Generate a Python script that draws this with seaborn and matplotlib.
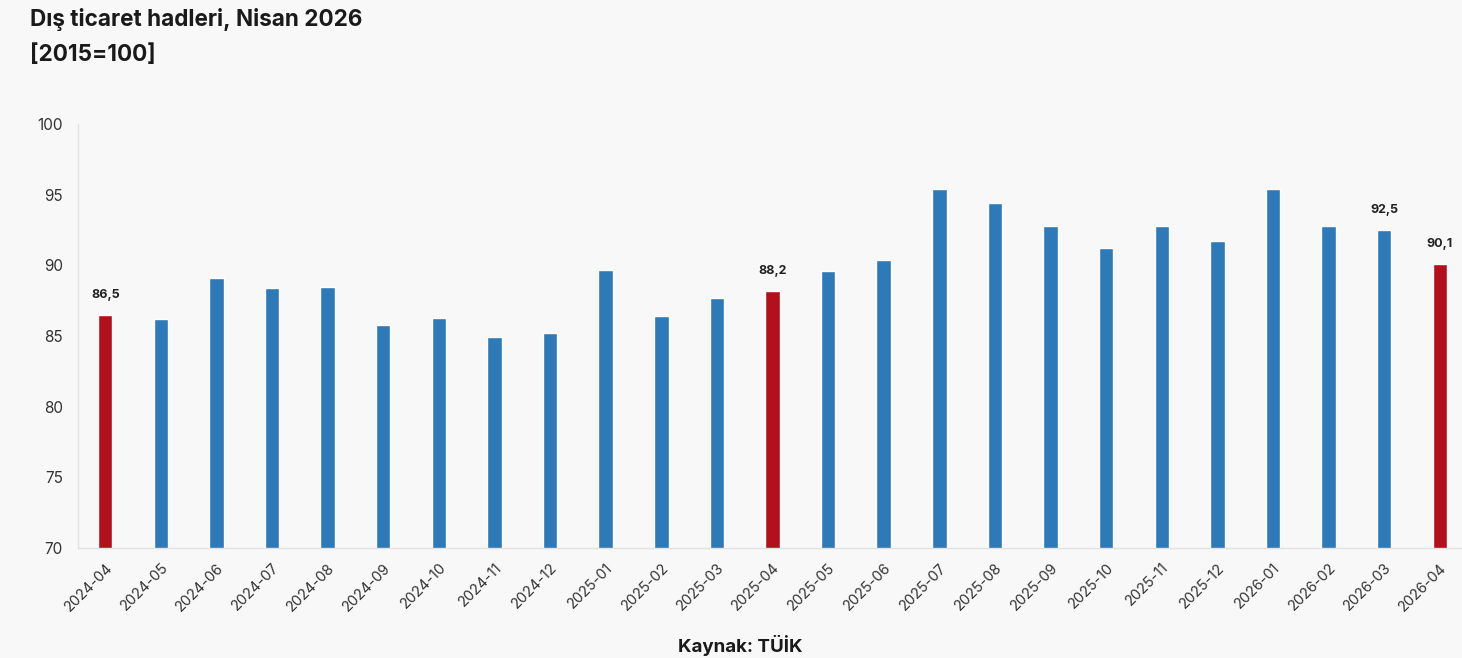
import matplotlib
matplotlib.use("Agg")
import matplotlib.pyplot as plt
import seaborn as sns
import pandas as pd

months = ["2024-04", "2024-05", "2024-06", "2024-07", "2024-08", "2024-09", "2024-10",
          "2024-11", "2024-12", "2025-01", "2025-02", "2025-03", "2025-04", "2025-05",
          "2025-06", "2025-07", "2025-08", "2025-09", "2025-10", "2025-11", "2025-12",
          "2026-01", "2026-02", "2026-03", "2026-04"]
values = [86.5, 86.2, 89.1, 88.4, 88.5, 85.8, 86.3, 84.9, 85.2, 89.7, 86.4, 87.7,
          88.2, 89.6, 90.4, 95.4, 94.4, 92.8, 91.2, 92.8, 91.7, 95.4, 92.8, 92.5, 90.1]
highlight = ["2024-04", "2025-04", "2026-04"]
labeled = ["2024-04", "2025-04", "2026-03", "2026-04"]
title = "Dış ticaret hadleri, Nisan 2026\n[2015=100]"
source = "Kaynak: TÜİK"

BLUE = "#2e79b8"
RED = "#b2111b"
BG = "#f8f8f8"

sns.set_theme(style="white")
plt.rcParams["font.family"] = ["Inter", "DejaVu Sans"]

df = pd.DataFrame({"month": months, "value": values})
palette = {m: (RED if m in highlight else BLUE) for m in months}

fig = plt.figure(figsize=(14.62, 6.58), dpi=100, facecolor=BG)
ax = fig.add_axes([78 / 1462, 1 - 548 / 658, (1462 - 78) / 1462, (548 - 124) / 658])
ax.set_facecolor(BG)

sns.barplot(data=df, x="month", y="value", hue="month", palette=palette,
            width=0.26, legend=False, ax=ax, saturation=1)

ax.set_ylim(70, 100)
ax.set_yticks(range(70, 101, 5))
ax.set_xlim(-0.49, 24.4)
ax.set_xlabel("")
ax.set_ylabel("")

for s in ["top", "right"]:
    ax.spines[s].set_visible(False)
for s in ["left", "bottom"]:
    ax.spines[s].set_color("#e2e2e2")
    ax.spines[s].set_linewidth(1.0)

ax.tick_params(axis="y", length=0, pad=11, labelsize=11, labelcolor="#333333")
ax.tick_params(axis="x", length=0, pad=9, labelsize=10.5, labelcolor="#333333")
for lab in ax.get_xticklabels():
    lab.set_rotation(45)
    lab.set_ha("right")
    lab.set_rotation_mode("anchor")

for i, (m, v) in enumerate(zip(months, values)):
    if m in labeled:
        ax.annotate(f"{v:.1f}".replace(".", ","), (i, v), xytext=(0, 10),
                    textcoords="offset points", ha="center", va="bottom",
                    fontsize=9, fontweight="bold", color="#222222")

fig.text(30 / 1462, 1 - 8 / 658, title, ha="left", va="top", fontsize=16.2,
         fontweight="bold", color="#1a1a1a", linespacing=1.75)
fig.text(740 / 1462, 1 - 645 / 658, source, ha="center", va="center",
         fontsize=13.5, fontweight="bold", color="#1a1a1a")

fig.savefig("out.png", dpi=100, facecolor=BG)
